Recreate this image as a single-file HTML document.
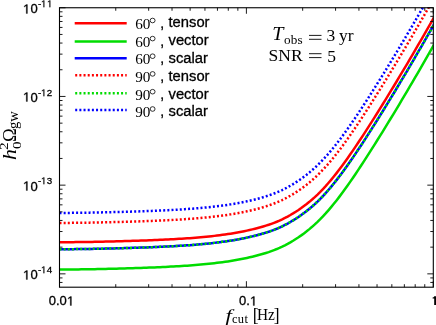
<!DOCTYPE html>
<html><head><meta charset="utf-8"><title>plot</title>
<style>
html,body{margin:0;padding:0;background:#fff;}
#w{position:relative;width:436px;height:325px;overflow:hidden;background:#fff;color:#000;will-change:transform;}
.t{position:absolute;white-space:nowrap;line-height:1;}
.s{font-family:"Liberation Sans",sans-serif;-webkit-text-stroke:0.3px #000;}
.o path{stroke:#000;stroke-width:48;}
.r{font-family:"Liberation Serif",serif;}
.o{display:inline-block;width:0.55615em;height:0.73242em;vertical-align:baseline;fill:#000;overflow:visible;}
</style></head><body><div id="w">
<svg width="436" height="325" viewBox="0 0 436 325" style="position:absolute;left:0;top:0">
<defs><clipPath id="c"><rect x="59.50" y="7.75" width="373.80" height="279.45"/></clipPath></defs>
<g clip-path="url(#c)" fill="none" stroke-linejoin="round">
<path d="M59.50 242.26 L62.22 242.25 L64.93 242.23 L67.65 242.21 L70.36 242.18 L73.08 242.15 L75.80 242.12 L78.51 242.09 L81.23 242.05 L83.94 242.01 L86.66 241.97 L89.38 241.93 L92.09 241.88 L94.81 241.83 L97.53 241.77 L100.24 241.72 L102.96 241.66 L105.67 241.60 L108.39 241.54 L111.11 241.47 L113.82 241.41 L116.54 241.34 L119.25 241.26 L121.97 241.19 L124.69 241.11 L127.40 241.03 L130.12 240.95 L132.83 240.86 L135.55 240.78 L138.27 240.69 L140.98 240.59 L143.70 240.50 L146.42 240.40 L149.13 240.30 L151.85 240.19 L154.56 240.08 L157.28 239.96 L160.00 239.84 L162.71 239.72 L165.43 239.59 L168.14 239.46 L170.86 239.32 L173.58 239.17 L176.29 239.02 L179.01 238.86 L181.72 238.69 L184.44 238.52 L187.16 238.33 L189.87 238.14 L192.59 237.94 L195.31 237.72 L198.02 237.50 L200.74 237.26 L203.45 237.02 L206.17 236.75 L208.89 236.48 L211.60 236.19 L214.32 235.88 L217.03 235.56 L219.75 235.22 L222.47 234.86 L225.18 234.49 L227.90 234.09 L230.61 233.67 L233.33 233.23 L236.05 232.77 L238.76 232.28 L241.48 231.76 L244.19 231.22 L246.91 230.64 L249.63 230.04 L252.34 229.40 L255.06 228.72 L257.78 228.02 L260.49 227.27 L263.21 226.48 L265.92 225.65 L268.64 224.77 L271.36 223.82 L274.07 222.81 L276.79 221.73 L279.50 220.57 L282.22 219.32 L284.94 217.98 L287.65 216.55 L290.37 215.03 L293.08 213.43 L295.80 211.73 L298.52 209.95 L301.23 208.07 L303.95 206.09 L306.67 204.02 L309.38 201.83 L312.10 199.52 L314.81 197.09 L317.53 194.54 L320.25 191.86 L322.96 189.04 L325.68 186.10 L328.39 183.03 L331.11 179.84 L333.83 176.53 L336.54 173.11 L339.26 169.58 L341.97 165.96 L344.69 162.24 L347.41 158.44 L350.12 154.57 L352.84 150.63 L355.55 146.63 L358.27 142.57 L360.99 138.46 L363.70 134.31 L366.42 130.11 L369.14 125.88 L371.85 121.61 L374.57 117.31 L377.28 112.98 L380.00 108.63 L382.72 104.25 L385.43 99.84 L388.15 95.41 L390.86 90.96 L393.58 86.48 L396.30 81.99 L399.01 77.47 L401.73 72.93 L404.44 68.36 L407.16 63.78 L409.88 59.17 L412.59 54.54 L415.31 49.89 L418.03 45.23 L420.74 40.54 L423.46 35.83 L426.17 31.10 L428.89 26.35 L431.61 21.58 L434.32 16.79 L437.04 11.97" stroke="#ff0000" stroke-width="2.5"/>
<path d="M59.50 269.56 L62.22 269.55 L64.93 269.53 L67.65 269.51 L70.36 269.48 L73.08 269.45 L75.80 269.42 L78.51 269.39 L81.23 269.35 L83.94 269.31 L86.66 269.27 L89.38 269.23 L92.09 269.18 L94.81 269.13 L97.53 269.07 L100.24 269.02 L102.96 268.96 L105.67 268.90 L108.39 268.84 L111.11 268.77 L113.82 268.71 L116.54 268.64 L119.25 268.56 L121.97 268.49 L124.69 268.41 L127.40 268.33 L130.12 268.25 L132.83 268.16 L135.55 268.08 L138.27 267.99 L140.98 267.89 L143.70 267.80 L146.42 267.70 L149.13 267.60 L151.85 267.49 L154.56 267.38 L157.28 267.26 L160.00 267.14 L162.71 267.02 L165.43 266.89 L168.14 266.76 L170.86 266.62 L173.58 266.47 L176.29 266.32 L179.01 266.16 L181.72 265.99 L184.44 265.82 L187.16 265.63 L189.87 265.44 L192.59 265.24 L195.31 265.02 L198.02 264.80 L200.74 264.56 L203.45 264.32 L206.17 264.05 L208.89 263.78 L211.60 263.49 L214.32 263.18 L217.03 262.86 L219.75 262.52 L222.47 262.16 L225.18 261.79 L227.90 261.39 L230.61 260.97 L233.33 260.53 L236.05 260.07 L238.76 259.58 L241.48 259.06 L244.19 258.52 L246.91 257.94 L249.63 257.34 L252.34 256.70 L255.06 256.02 L257.78 255.32 L260.49 254.57 L263.21 253.78 L265.92 252.95 L268.64 252.07 L271.36 251.12 L274.07 250.11 L276.79 249.03 L279.50 247.87 L282.22 246.62 L284.94 245.28 L287.65 243.85 L290.37 242.33 L293.08 240.73 L295.80 239.03 L298.52 237.25 L301.23 235.37 L303.95 233.39 L306.67 231.32 L309.38 229.13 L312.10 226.82 L314.81 224.39 L317.53 221.84 L320.25 219.16 L322.96 216.34 L325.68 213.40 L328.39 210.33 L331.11 207.14 L333.83 203.83 L336.54 200.41 L339.26 196.88 L341.97 193.26 L344.69 189.54 L347.41 185.74 L350.12 181.87 L352.84 177.93 L355.55 173.93 L358.27 169.87 L360.99 165.76 L363.70 161.61 L366.42 157.41 L369.14 153.18 L371.85 148.91 L374.57 144.61 L377.28 140.28 L380.00 135.93 L382.72 131.55 L385.43 127.14 L388.15 122.71 L390.86 118.26 L393.58 113.78 L396.30 109.29 L399.01 104.77 L401.73 100.23 L404.44 95.66 L407.16 91.08 L409.88 86.47 L412.59 81.84 L415.31 77.19 L418.03 72.53 L420.74 67.84 L423.46 63.13 L426.17 58.40 L428.89 53.65 L431.61 48.88 L434.32 44.09 L437.04 39.27" stroke="#00dc00" stroke-width="2.5"/>
<path d="M59.50 249.26 L62.22 249.25 L64.93 249.23 L67.65 249.21 L70.36 249.18 L73.08 249.15 L75.80 249.12 L78.51 249.09 L81.23 249.05 L83.94 249.01 L86.66 248.97 L89.38 248.93 L92.09 248.88 L94.81 248.83 L97.53 248.77 L100.24 248.72 L102.96 248.66 L105.67 248.60 L108.39 248.54 L111.11 248.47 L113.82 248.41 L116.54 248.34 L119.25 248.26 L121.97 248.19 L124.69 248.11 L127.40 248.03 L130.12 247.95 L132.83 247.86 L135.55 247.78 L138.27 247.69 L140.98 247.59 L143.70 247.50 L146.42 247.40 L149.13 247.30 L151.85 247.19 L154.56 247.08 L157.28 246.96 L160.00 246.84 L162.71 246.72 L165.43 246.59 L168.14 246.46 L170.86 246.32 L173.58 246.17 L176.29 246.02 L179.01 245.86 L181.72 245.69 L184.44 245.52 L187.16 245.33 L189.87 245.14 L192.59 244.94 L195.31 244.72 L198.02 244.50 L200.74 244.26 L203.45 244.02 L206.17 243.75 L208.89 243.48 L211.60 243.19 L214.32 242.88 L217.03 242.56 L219.75 242.22 L222.47 241.86 L225.18 241.49 L227.90 241.09 L230.61 240.67 L233.33 240.23 L236.05 239.77 L238.76 239.28 L241.48 238.76 L244.19 238.22 L246.91 237.64 L249.63 237.04 L252.34 236.40 L255.06 235.72 L257.78 235.02 L260.49 234.27 L263.21 233.48 L265.92 232.65 L268.64 231.77 L271.36 230.82 L274.07 229.81 L276.79 228.73 L279.50 227.57 L282.22 226.32 L284.94 224.98 L287.65 223.55 L290.37 222.03 L293.08 220.43 L295.80 218.73 L298.52 216.95 L301.23 215.07 L303.95 213.09 L306.67 211.02 L309.38 208.83 L312.10 206.52 L314.81 204.09 L317.53 201.54 L320.25 198.86 L322.96 196.04 L325.68 193.10 L328.39 190.03 L331.11 186.84 L333.83 183.53 L336.54 180.11 L339.26 176.58 L341.97 172.96 L344.69 169.24 L347.41 165.44 L350.12 161.57 L352.84 157.63 L355.55 153.63 L358.27 149.57 L360.99 145.46 L363.70 141.31 L366.42 137.11 L369.14 132.88 L371.85 128.61 L374.57 124.31 L377.28 119.98 L380.00 115.63 L382.72 111.25 L385.43 106.84 L388.15 102.41 L390.86 97.96 L393.58 93.48 L396.30 88.99 L399.01 84.47 L401.73 79.93 L404.44 75.36 L407.16 70.78 L409.88 66.17 L412.59 61.54 L415.31 56.89 L418.03 52.23 L420.74 47.54 L423.46 42.83 L426.17 38.10 L428.89 33.35 L431.61 28.58 L434.32 23.79 L437.04 18.97" stroke="#0000ff" stroke-width="2.5"/>
<path d="M59.50 222.96 L62.22 222.95 L64.93 222.93 L67.65 222.91 L70.36 222.88 L73.08 222.85 L75.80 222.82 L78.51 222.79 L81.23 222.75 L83.94 222.71 L86.66 222.67 L89.38 222.63 L92.09 222.58 L94.81 222.53 L97.53 222.47 L100.24 222.42 L102.96 222.36 L105.67 222.30 L108.39 222.24 L111.11 222.17 L113.82 222.11 L116.54 222.04 L119.25 221.96 L121.97 221.89 L124.69 221.81 L127.40 221.73 L130.12 221.65 L132.83 221.56 L135.55 221.48 L138.27 221.39 L140.98 221.29 L143.70 221.20 L146.42 221.10 L149.13 221.00 L151.85 220.89 L154.56 220.78 L157.28 220.66 L160.00 220.54 L162.71 220.42 L165.43 220.29 L168.14 220.16 L170.86 220.02 L173.58 219.87 L176.29 219.72 L179.01 219.56 L181.72 219.39 L184.44 219.22 L187.16 219.03 L189.87 218.84 L192.59 218.64 L195.31 218.42 L198.02 218.20 L200.74 217.96 L203.45 217.72 L206.17 217.45 L208.89 217.18 L211.60 216.89 L214.32 216.58 L217.03 216.26 L219.75 215.92 L222.47 215.56 L225.18 215.19 L227.90 214.79 L230.61 214.37 L233.33 213.93 L236.05 213.47 L238.76 212.98 L241.48 212.46 L244.19 211.92 L246.91 211.34 L249.63 210.74 L252.34 210.10 L255.06 209.42 L257.78 208.72 L260.49 207.97 L263.21 207.18 L265.92 206.35 L268.64 205.47 L271.36 204.52 L274.07 203.51 L276.79 202.43 L279.50 201.27 L282.22 200.02 L284.94 198.68 L287.65 197.25 L290.37 195.73 L293.08 194.13 L295.80 192.43 L298.52 190.65 L301.23 188.77 L303.95 186.79 L306.67 184.72 L309.38 182.53 L312.10 180.22 L314.81 177.79 L317.53 175.24 L320.25 172.56 L322.96 169.74 L325.68 166.80 L328.39 163.73 L331.11 160.54 L333.83 157.23 L336.54 153.81 L339.26 150.28 L341.97 146.66 L344.69 142.94 L347.41 139.14 L350.12 135.27 L352.84 131.33 L355.55 127.33 L358.27 123.27 L360.99 119.16 L363.70 115.01 L366.42 110.81 L369.14 106.58 L371.85 102.31 L374.57 98.01 L377.28 93.68 L380.00 89.33 L382.72 84.95 L385.43 80.54 L388.15 76.11 L390.86 71.66 L393.58 67.18 L396.30 62.69 L399.01 58.17 L401.73 53.63 L404.44 49.06 L407.16 44.48 L409.88 39.87 L412.59 35.24 L415.31 30.59 L418.03 25.93 L420.74 21.24 L423.46 16.53 L426.17 11.80 L428.89 7.05 L431.61 2.28 L434.32 -2.51 L437.04 -7.33" stroke="#ff0000" stroke-width="2.5" stroke-dasharray="2 2.15"/>
<path d="M59.50 249.26 L62.22 249.25 L64.93 249.23 L67.65 249.21 L70.36 249.18 L73.08 249.15 L75.80 249.12 L78.51 249.09 L81.23 249.05 L83.94 249.01 L86.66 248.97 L89.38 248.93 L92.09 248.88 L94.81 248.83 L97.53 248.77 L100.24 248.72 L102.96 248.66 L105.67 248.60 L108.39 248.54 L111.11 248.47 L113.82 248.41 L116.54 248.34 L119.25 248.26 L121.97 248.19 L124.69 248.11 L127.40 248.03 L130.12 247.95 L132.83 247.86 L135.55 247.78 L138.27 247.69 L140.98 247.59 L143.70 247.50 L146.42 247.40 L149.13 247.30 L151.85 247.19 L154.56 247.08 L157.28 246.96 L160.00 246.84 L162.71 246.72 L165.43 246.59 L168.14 246.46 L170.86 246.32 L173.58 246.17 L176.29 246.02 L179.01 245.86 L181.72 245.69 L184.44 245.52 L187.16 245.33 L189.87 245.14 L192.59 244.94 L195.31 244.72 L198.02 244.50 L200.74 244.26 L203.45 244.02 L206.17 243.75 L208.89 243.48 L211.60 243.19 L214.32 242.88 L217.03 242.56 L219.75 242.22 L222.47 241.86 L225.18 241.49 L227.90 241.09 L230.61 240.67 L233.33 240.23 L236.05 239.77 L238.76 239.28 L241.48 238.76 L244.19 238.22 L246.91 237.64 L249.63 237.04 L252.34 236.40 L255.06 235.72 L257.78 235.02 L260.49 234.27 L263.21 233.48 L265.92 232.65 L268.64 231.77 L271.36 230.82 L274.07 229.81 L276.79 228.73 L279.50 227.57 L282.22 226.32 L284.94 224.98 L287.65 223.55 L290.37 222.03 L293.08 220.43 L295.80 218.73 L298.52 216.95 L301.23 215.07 L303.95 213.09 L306.67 211.02 L309.38 208.83 L312.10 206.52 L314.81 204.09 L317.53 201.54 L320.25 198.86 L322.96 196.04 L325.68 193.10 L328.39 190.03 L331.11 186.84 L333.83 183.53 L336.54 180.11 L339.26 176.58 L341.97 172.96 L344.69 169.24 L347.41 165.44 L350.12 161.57 L352.84 157.63 L355.55 153.63 L358.27 149.57 L360.99 145.46 L363.70 141.31 L366.42 137.11 L369.14 132.88 L371.85 128.61 L374.57 124.31 L377.28 119.98 L380.00 115.63 L382.72 111.25 L385.43 106.84 L388.15 102.41 L390.86 97.96 L393.58 93.48 L396.30 88.99 L399.01 84.47 L401.73 79.93 L404.44 75.36 L407.16 70.78 L409.88 66.17 L412.59 61.54 L415.31 56.89 L418.03 52.23 L420.74 47.54 L423.46 42.83 L426.17 38.10 L428.89 33.35 L431.61 28.58 L434.32 23.79 L437.04 18.97" stroke="#00dc00" stroke-width="2.5" stroke-dasharray="2 2.15"/>
<path d="M59.50 212.96 L62.22 212.95 L64.93 212.93 L67.65 212.91 L70.36 212.88 L73.08 212.85 L75.80 212.82 L78.51 212.79 L81.23 212.75 L83.94 212.71 L86.66 212.67 L89.38 212.63 L92.09 212.58 L94.81 212.53 L97.53 212.47 L100.24 212.42 L102.96 212.36 L105.67 212.30 L108.39 212.24 L111.11 212.17 L113.82 212.11 L116.54 212.04 L119.25 211.96 L121.97 211.89 L124.69 211.81 L127.40 211.73 L130.12 211.65 L132.83 211.56 L135.55 211.48 L138.27 211.39 L140.98 211.29 L143.70 211.20 L146.42 211.10 L149.13 211.00 L151.85 210.89 L154.56 210.78 L157.28 210.66 L160.00 210.54 L162.71 210.42 L165.43 210.29 L168.14 210.16 L170.86 210.02 L173.58 209.87 L176.29 209.72 L179.01 209.56 L181.72 209.39 L184.44 209.22 L187.16 209.03 L189.87 208.84 L192.59 208.64 L195.31 208.42 L198.02 208.20 L200.74 207.96 L203.45 207.72 L206.17 207.45 L208.89 207.18 L211.60 206.89 L214.32 206.58 L217.03 206.26 L219.75 205.92 L222.47 205.56 L225.18 205.19 L227.90 204.79 L230.61 204.37 L233.33 203.93 L236.05 203.47 L238.76 202.98 L241.48 202.46 L244.19 201.92 L246.91 201.34 L249.63 200.74 L252.34 200.10 L255.06 199.42 L257.78 198.72 L260.49 197.97 L263.21 197.18 L265.92 196.35 L268.64 195.47 L271.36 194.52 L274.07 193.51 L276.79 192.43 L279.50 191.27 L282.22 190.02 L284.94 188.68 L287.65 187.25 L290.37 185.73 L293.08 184.13 L295.80 182.43 L298.52 180.65 L301.23 178.77 L303.95 176.79 L306.67 174.72 L309.38 172.53 L312.10 170.22 L314.81 167.79 L317.53 165.24 L320.25 162.56 L322.96 159.74 L325.68 156.80 L328.39 153.73 L331.11 150.54 L333.83 147.23 L336.54 143.81 L339.26 140.28 L341.97 136.66 L344.69 132.94 L347.41 129.14 L350.12 125.27 L352.84 121.33 L355.55 117.33 L358.27 113.27 L360.99 109.16 L363.70 105.01 L366.42 100.81 L369.14 96.58 L371.85 92.31 L374.57 88.01 L377.28 83.68 L380.00 79.33 L382.72 74.95 L385.43 70.54 L388.15 66.11 L390.86 61.66 L393.58 57.18 L396.30 52.69 L399.01 48.17 L401.73 43.63 L404.44 39.06 L407.16 34.48 L409.88 29.87 L412.59 25.24 L415.31 20.59 L418.03 15.93 L420.74 11.24 L423.46 6.53 L426.17 1.80 L428.89 -2.95 L431.61 -7.72 L434.32 -12.51 L437.04 -17.33" stroke="#0000ff" stroke-width="2.5" stroke-dasharray="2 2.15"/>
</g>
<path d="M59.50 282.45h3.0 M433.30 282.45h-3.0 M59.50 277.91h3.0 M433.30 277.91h-3.0 M59.50 273.85h6.0 M433.30 273.85h-6.0 M59.50 247.15h3.0 M433.30 247.15h-3.0 M59.50 231.53h3.0 M433.30 231.53h-3.0 M59.50 220.45h3.0 M433.30 220.45h-3.0 M59.50 211.85h3.0 M433.30 211.85h-3.0 M59.50 204.83h3.0 M433.30 204.83h-3.0 M59.50 198.89h3.0 M433.30 198.89h-3.0 M59.50 193.75h3.0 M433.30 193.75h-3.0 M59.50 189.21h3.0 M433.30 189.21h-3.0 M59.50 185.15h6.0 M433.30 185.15h-6.0 M59.50 158.45h3.0 M433.30 158.45h-3.0 M59.50 142.83h3.0 M433.30 142.83h-3.0 M59.50 131.75h3.0 M433.30 131.75h-3.0 M59.50 123.15h3.0 M433.30 123.15h-3.0 M59.50 116.13h3.0 M433.30 116.13h-3.0 M59.50 110.19h3.0 M433.30 110.19h-3.0 M59.50 105.05h3.0 M433.30 105.05h-3.0 M59.50 100.51h3.0 M433.30 100.51h-3.0 M59.50 96.45h6.0 M433.30 96.45h-6.0 M59.50 69.75h3.0 M433.30 69.75h-3.0 M59.50 54.13h3.0 M433.30 54.13h-3.0 M59.50 43.05h3.0 M433.30 43.05h-3.0 M59.50 34.45h3.0 M433.30 34.45h-3.0 M59.50 27.43h3.0 M433.30 27.43h-3.0 M59.50 21.49h3.0 M433.30 21.49h-3.0 M59.50 16.35h3.0 M433.30 16.35h-3.0 M59.50 11.81h3.0 M433.30 11.81h-3.0 M59.50 7.75h6.0 M433.30 7.75h-6.0 M59.50 287.20v-6.0 M59.50 7.75v6.0 M115.76 287.20v-3.0 M115.76 7.75v3.0 M148.67 287.20v-3.0 M148.67 7.75v3.0 M172.03 287.20v-3.0 M172.03 7.75v3.0 M190.14 287.20v-3.0 M190.14 7.75v3.0 M204.94 287.20v-3.0 M204.94 7.75v3.0 M217.45 287.20v-3.0 M217.45 7.75v3.0 M228.29 287.20v-3.0 M228.29 7.75v3.0 M237.85 287.20v-3.0 M237.85 7.75v3.0 M246.40 287.20v-6.0 M246.40 7.75v6.0 M302.66 287.20v-3.0 M302.66 7.75v3.0 M335.57 287.20v-3.0 M335.57 7.75v3.0 M358.93 287.20v-3.0 M358.93 7.75v3.0 M377.04 287.20v-3.0 M377.04 7.75v3.0 M391.84 287.20v-3.0 M391.84 7.75v3.0 M404.35 287.20v-3.0 M404.35 7.75v3.0 M415.19 287.20v-3.0 M415.19 7.75v3.0 M424.75 287.20v-3.0 M424.75 7.75v3.0 M433.30 287.20v-6.0 M433.30 7.75v6.0" stroke="#111" stroke-width="0.95" fill="none"/>
<rect x="59.50" y="7.75" width="373.80" height="279.45" fill="none" stroke="#000" stroke-width="1.1"/>
<path d="M74.7 23.30H126.7" stroke="#ff0000" stroke-width="2.5" fill="none"/>
<path d="M74.7 41.50H126.7" stroke="#00dc00" stroke-width="2.5" fill="none"/>
<path d="M74.7 58.30H126.7" stroke="#0000ff" stroke-width="2.5" fill="none"/>
<path d="M74.7 75.20H126.7" stroke="#ff0000" stroke-width="2.5" fill="none" stroke-dasharray="2 2.17" stroke-dashoffset="-0.5"/>
<path d="M74.7 93.30H126.7" stroke="#00dc00" stroke-width="2.5" fill="none" stroke-dasharray="2 2.17" stroke-dashoffset="-0.5"/>
<path d="M74.7 110.10H126.7" stroke="#0000ff" stroke-width="2.5" fill="none" stroke-dasharray="2 2.17" stroke-dashoffset="-0.5"/>
<path d="M309 35.40H321.5M309 39.30H321.5" stroke="#000" stroke-width="0.9" fill="none"/>
<path d="M309 53.70H321.5M309 57.60H321.5" stroke="#000" stroke-width="0.9" fill="none"/>
<path d="M434.2 296.2H436.5V304.9H434.2V298.6H432.6V297.6Q433.9 297.3 434.3 296.2Z" fill="#000"/>
<ellipse cx="152.6" cy="20.50" rx="2.45" ry="2.3" fill="none" stroke="#000" stroke-width="0.8"/>
<ellipse cx="152.6" cy="38.60" rx="2.45" ry="2.3" fill="none" stroke="#000" stroke-width="0.8"/>
<ellipse cx="152.6" cy="56.20" rx="2.45" ry="2.3" fill="none" stroke="#000" stroke-width="0.8"/>
<ellipse cx="152.6" cy="73.90" rx="2.45" ry="2.3" fill="none" stroke="#000" stroke-width="0.8"/>
<ellipse cx="152.6" cy="91.70" rx="2.45" ry="2.3" fill="none" stroke="#000" stroke-width="0.8"/>
<ellipse cx="152.6" cy="109.00" rx="2.45" ry="2.3" fill="none" stroke="#000" stroke-width="0.8"/>
</svg>
<div id="y11" class="t s" style="left:23.40px;top:2.20px;font-size:13px;"><svg class="o" viewBox="0 -1500 1139 1500"><path transform="scale(1,-1)" d="M515 0V1237L197 1010V1180L530 1409H696V0Z"/></svg>0</div>
<div id="ys11" class="t s" style="left:38.00px;top:-1.00px;font-size:9.8px;">-<svg class="o" viewBox="0 -1500 1139 1500"><path transform="scale(1,-1)" d="M515 0V1237L197 1010V1180L530 1409H696V0Z"/></svg><svg class="o" viewBox="0 -1500 1139 1500"><path transform="scale(1,-1)" d="M515 0V1237L197 1010V1180L530 1409H696V0Z"/></svg></div>
<div id="y12" class="t s" style="left:23.40px;top:90.90px;font-size:13px;"><svg class="o" viewBox="0 -1500 1139 1500"><path transform="scale(1,-1)" d="M515 0V1237L197 1010V1180L530 1409H696V0Z"/></svg>0</div>
<div id="ys12" class="t s" style="left:38.00px;top:87.70px;font-size:9.8px;">-<svg class="o" viewBox="0 -1500 1139 1500"><path transform="scale(1,-1)" d="M515 0V1237L197 1010V1180L530 1409H696V0Z"/></svg>2</div>
<div id="y13" class="t s" style="left:23.40px;top:179.60px;font-size:13px;"><svg class="o" viewBox="0 -1500 1139 1500"><path transform="scale(1,-1)" d="M515 0V1237L197 1010V1180L530 1409H696V0Z"/></svg>0</div>
<div id="ys13" class="t s" style="left:38.00px;top:176.40px;font-size:9.8px;">-<svg class="o" viewBox="0 -1500 1139 1500"><path transform="scale(1,-1)" d="M515 0V1237L197 1010V1180L530 1409H696V0Z"/></svg>3</div>
<div id="y14" class="t s" style="left:23.40px;top:268.30px;font-size:13px;"><svg class="o" viewBox="0 -1500 1139 1500"><path transform="scale(1,-1)" d="M515 0V1237L197 1010V1180L530 1409H696V0Z"/></svg>0</div>
<div id="ys14" class="t s" style="left:38.00px;top:265.10px;font-size:9.8px;">-<svg class="o" viewBox="0 -1500 1139 1500"><path transform="scale(1,-1)" d="M515 0V1237L197 1010V1180L530 1409H696V0Z"/></svg>4</div>
<div id="x001" class="t s" style="left:48.70px;top:294.10px;font-size:13px;">0.0<svg class="o" viewBox="0 -1500 1139 1500"><path transform="scale(1,-1)" d="M515 0V1237L197 1010V1180L530 1409H696V0Z"/></svg></div>
<div id="x01" class="t s" style="left:239.00px;top:294.10px;font-size:13px;">0.<svg class="o" viewBox="0 -1500 1139 1500"><path transform="scale(1,-1)" d="M515 0V1237L197 1010V1180L530 1409H696V0Z"/></svg></div>
<div id="la0" class="t r" style="left:135.20px;top:15.67px;font-size:15.2px;">60</div>
<div id="lc0" class="t s" style="left:160.20px;top:15.65px;font-size:14px;">,</div>
<div id="ln0" class="t s" style="left:168.50px;top:15.01px;font-size:14.75px;">tensor</div>
<div id="la1" class="t r" style="left:135.20px;top:33.77px;font-size:15.2px;">60</div>
<div id="lc1" class="t s" style="left:160.20px;top:33.85px;font-size:14px;">,</div>
<div id="ln1" class="t s" style="left:168.50px;top:33.21px;font-size:14.75px;">vector</div>
<div id="la2" class="t r" style="left:135.20px;top:51.37px;font-size:15.2px;">60</div>
<div id="lc2" class="t s" style="left:160.20px;top:51.45px;font-size:14px;">,</div>
<div id="ln2" class="t s" style="left:168.50px;top:50.81px;font-size:14.75px;">scalar</div>
<div id="la3" class="t r" style="left:135.20px;top:69.07px;font-size:15.2px;">90</div>
<div id="lc3" class="t s" style="left:160.20px;top:69.35px;font-size:14px;">,</div>
<div id="ln3" class="t s" style="left:168.50px;top:68.71px;font-size:14.75px;">tensor</div>
<div id="la4" class="t r" style="left:135.20px;top:86.87px;font-size:15.2px;">90</div>
<div id="lc4" class="t s" style="left:160.20px;top:87.15px;font-size:14px;">,</div>
<div id="ln4" class="t s" style="left:168.50px;top:86.51px;font-size:14.75px;">vector</div>
<div id="la5" class="t r" style="left:135.20px;top:104.17px;font-size:15.2px;">90</div>
<div id="lc5" class="t s" style="left:160.20px;top:104.45px;font-size:14px;">,</div>
<div id="ln5" class="t s" style="left:168.50px;top:103.81px;font-size:14.75px;">scalar</div>
<div id="aT" class="t r" style="left:273.00px;top:26.29px;font-size:17.8px;font-style:italic;transform:scaleX(1.13);transform-origin:60% 50%;">T</div>
<div id="aobs" class="t r" style="left:284.00px;top:32.74px;font-size:13.2px;letter-spacing:0.2px;">obs</div>
<div id="a3" class="t r" style="left:326.60px;top:26.54px;font-size:17.5px;">3</div>
<div id="ayr" class="t r" style="left:339.00px;top:26.54px;font-size:17.5px;">yr</div>
<div id="aSNR" class="t r" style="left:268.60px;top:47.44px;font-size:17.5px;">SNR</div>
<div id="a5" class="t r" style="left:327.20px;top:47.64px;font-size:17.5px;">5</div>
<div id="xf" class="t r" style="left:226.50px;top:306.74px;font-size:17.5px;font-style:italic;transform:scaleX(1.3);transform-origin:100% 50%;">f</div>
<div id="xcut" class="t r" style="left:232.00px;top:312.73px;font-size:12.5px;letter-spacing:0.3px;">cut</div>
<div id="xb1" class="t r" style="left:252.70px;top:307.24px;font-size:17.5px;transform:scaleY(1.08);transform-origin:50% 70%;">[</div>
<div id="xH" class="t r" style="left:257.20px;top:307.38px;font-size:16.5px;transform:scaleX(0.93);transform-origin:0 0;">Hz</div>
<div id="xb2" class="t r" style="left:273.80px;top:307.24px;font-size:17.5px;transform:scaleY(1.08);transform-origin:50% 70%;">]</div>
<div id="yl" style="position:absolute;left:16.4px;top:159.3px;width:0;height:0;transform:rotate(-90deg);transform-origin:0 0;"><div id="yh" class="t r" style="left:-1.20px;top:-16.42px;font-size:19.6px;font-style:italic;transform:scaleX(1.12);transform-origin:0 0;">h</div><div id="y2" class="t r" style="left:9.40px;top:-18.02px;font-size:12.8px;transform:scaleX(1.2);transform-origin:0 0;">2</div><div id="y0" class="t r" style="left:9.50px;top:-5.62px;font-size:13.4px;transform:scaleX(1.12);transform-origin:0 0;">0</div><div id="yO" class="t r" style="left:16.90px;top:-16.08px;font-size:19.2px;transform:scaleX(0.97);transform-origin:0 0;">&Omega;</div><div id="ygw" class="t r" style="left:29.90px;top:-8.72px;font-size:14px;transform:scaleX(1.04);transform-origin:0 0;">gw</div></div>
</div></body></html>
